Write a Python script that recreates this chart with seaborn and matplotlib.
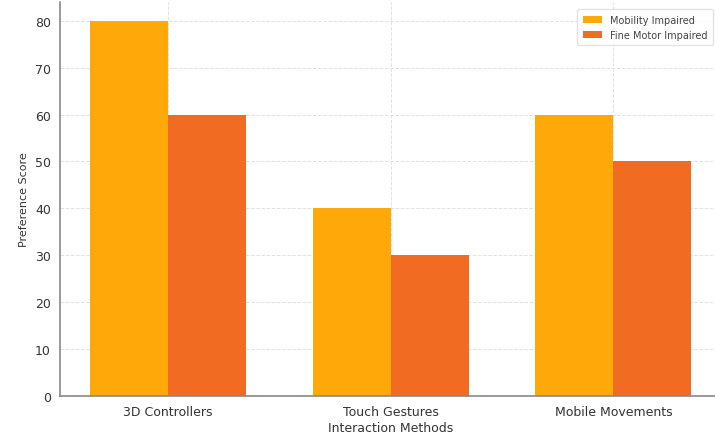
import matplotlib
matplotlib.use("Agg")
import matplotlib.pyplot as plt
import seaborn as sns
import pandas as pd

methods = ["3D Controllers", "Touch Gestures", "Mobile Movements"]
groups = ["Mobility Impaired", "Fine Motor Impaired"]
mobility_impaired = [80, 40, 60]
fine_motor_impaired = [60, 30, 50]
colors = ["#FFA80A", "#F26B22"]

df = pd.DataFrame({
    "Interaction Methods": methods * 2,
    "Preference Score": mobility_impaired + fine_motor_impaired,
    "Group": [groups[0]] * 3 + [groups[1]] * 3,
})

sns.set_style("white")
fig = plt.figure(figsize=(7.15, 4.39), dpi=100)
ax = fig.add_axes([0.084, 0.096, 0.925, 0.897])

sns.barplot(data=df, x="Interaction Methods", y="Preference Score", hue="Group",
            palette=colors, width=0.7, saturation=1, ax=ax, errorbar=None,
            linewidth=0, edgecolor="none")

ax.set_xlim(-0.485, 2.485)
ax.set_ylim(0, 84)
ax.set_yticks(range(0, 81, 10))
ax.grid(True, linestyle="--", color="#e2e2e2", linewidth=0.7)
ax.set_axisbelow(True)
for side in ["top", "right"]:
    ax.spines[side].set_visible(False)
for side in ["left", "bottom"]:
    ax.spines[side].set_color("#888888")
    ax.spines[side].set_linewidth(1.2)
ax.tick_params(axis="both", colors="#888888", labelcolor="#333333", labelsize=9, length=3)
ax.set_xlabel("Interaction Methods", fontsize=9, color="#333333", labelpad=2)
ax.set_ylabel("Preference Score", fontsize=8, color="#333333")

leg = ax.legend(loc="upper right", fontsize=7, frameon=True, title=None,
                handlelength=2, borderpad=0.6, bbox_to_anchor=(0.995, 0.995))
leg.get_frame().set_edgecolor("#dddddd")
for t in leg.get_texts():
    t.set_color("#444444")

fig.savefig("out.png", dpi=100)
